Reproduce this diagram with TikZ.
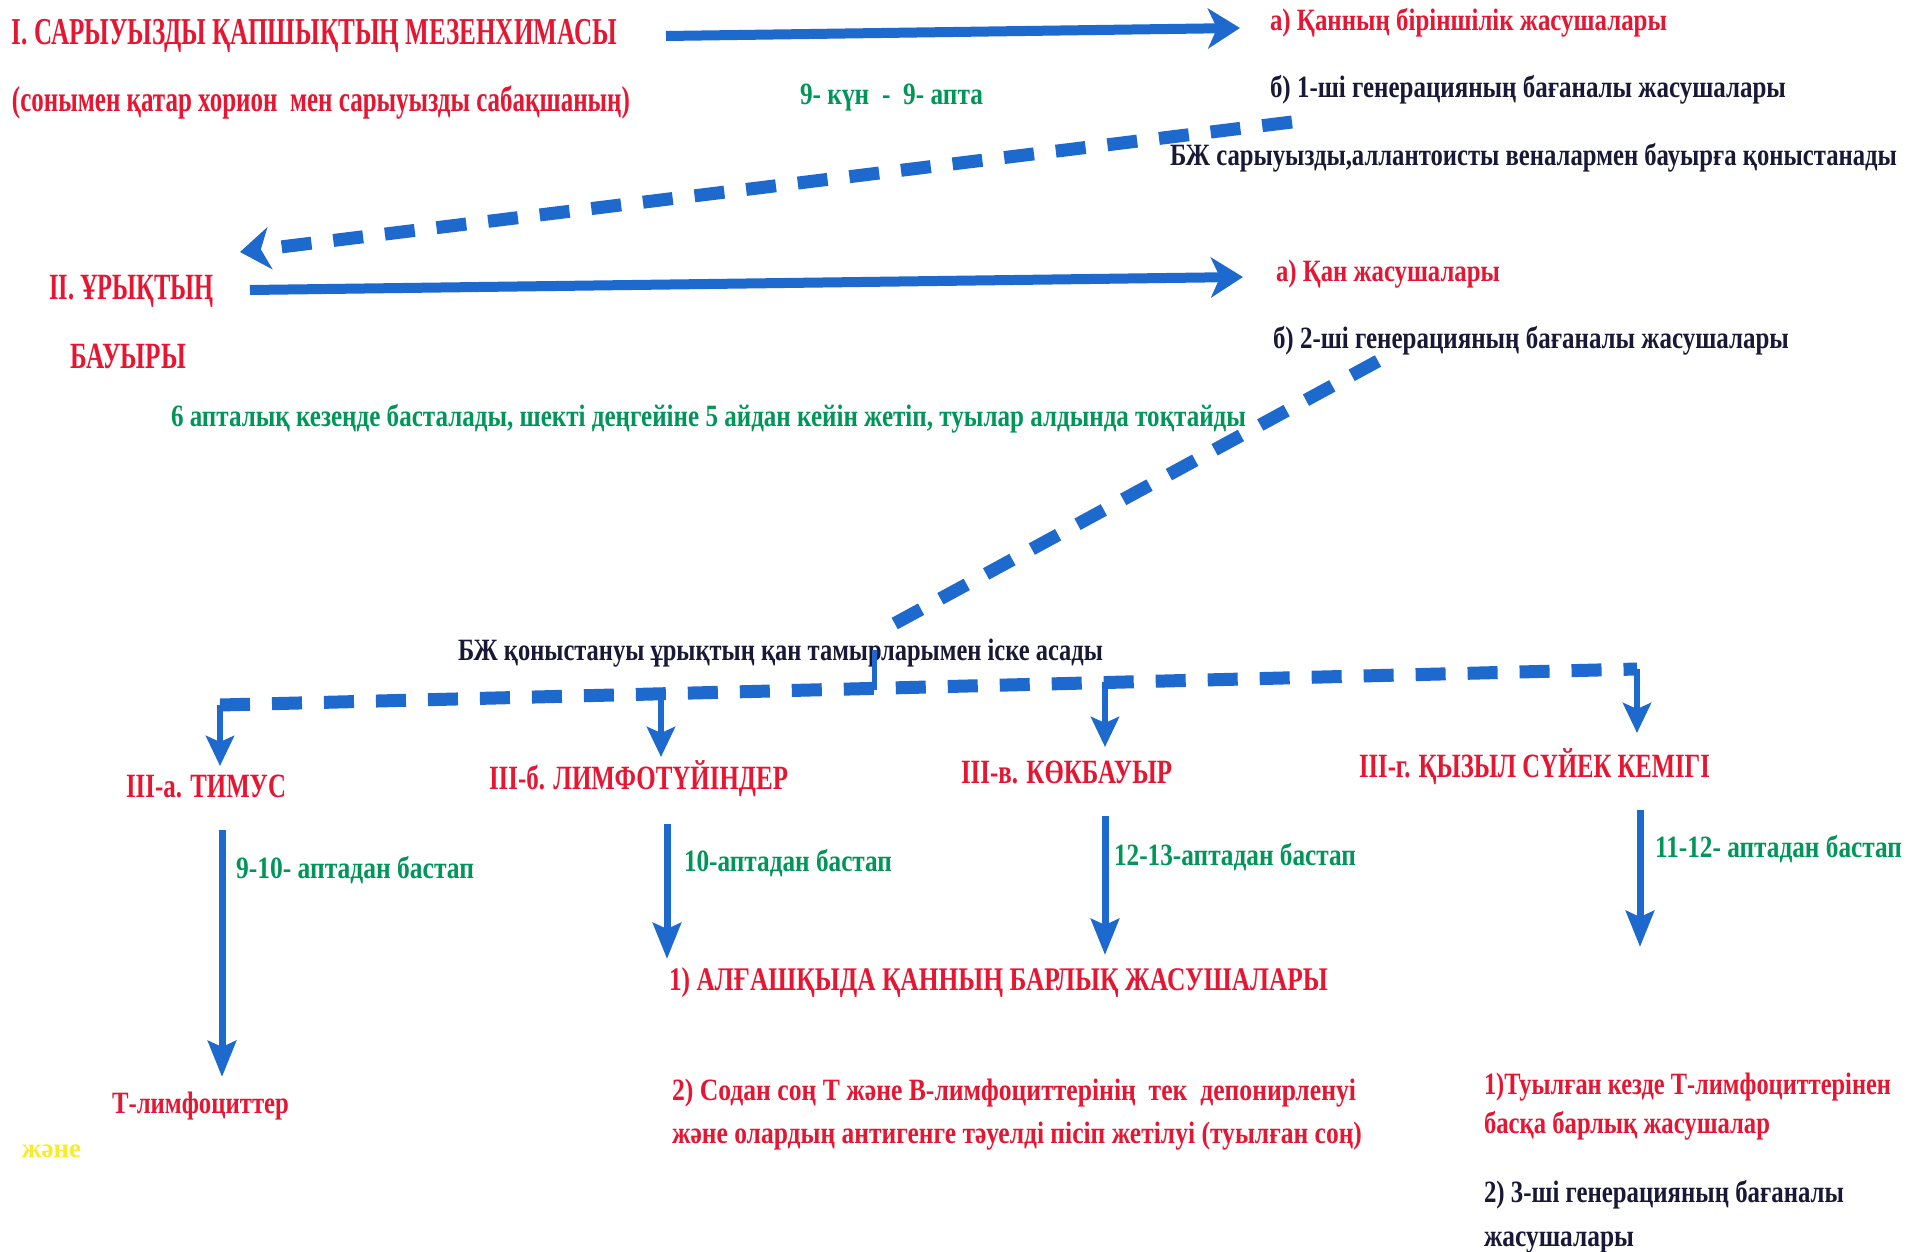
\documentclass[tikz,border=0pt]{standalone}
\usepackage{fontspec}
\usepackage{graphicx}
\setmainfont{Liberation Serif}
\usetikzlibrary{arrows.meta}
\definecolor{cred}{RGB}{230,22,50}
\definecolor{cgreen}{RGB}{0,150,90}
\definecolor{cdark}{RGB}{25,25,55}
\definecolor{cyel}{RGB}{250,235,40}
\definecolor{arrowblue}{RGB}{30,105,205}
\newsavebox\fitbox
\newcommand\fitto[3]{\sbox\fitbox{\fontsize{#2}{#2}\selectfont\bfseries #3}\pgfmathsetmacro\fitsx{#1/\the\wd\fitbox}\scalebox{\fitsx}[1]{\usebox\fitbox}}
\tikzset{
  lbl/.style={anchor=base west,inner sep=0pt,outer sep=0pt},
  bigarrow/.style={draw=arrowblue,line width=10pt,-{Stealth[length=32pt,width=40pt,inset=9pt]}},
  dasharrow/.style={draw=arrowblue,line width=13pt,dash pattern=on 30pt off 22pt,-{Stealth[length=30pt,width=42pt,inset=9pt]}},
  dashline/.style={draw=arrowblue,line width=13pt,dash pattern=on 30pt off 22pt},
  branch/.style={draw=arrowblue,line width=6pt,-{Stealth[length=30pt,width=28pt,inset=6pt]}},
  down/.style={draw=arrowblue,line width=7pt,-{Stealth[length=36pt,width=28pt,inset=6pt]}},
  tick/.style={draw=arrowblue,line width=5pt}
}
\begin{document}
\begin{tikzpicture}[x=1pt,y=-1pt]
\fill[white] (0,0) rectangle (1915,1252);
\useasboundingbox (0,0) rectangle (1915,1252);
% texts
\node[lbl,text=cred] (t1) at (12,45) {\fitto{605}{38}{I. САРЫУЫЗДЫ ҚАПШЫҚТЫҢ МЕЗЕНХИМАСЫ}};
\node[lbl,text=cred] (t2) at (12,112) {\fitto{618}{36}{(сонымен қатар хорион \ мен сарыуызды сабақшаның)}};
\node[lbl,text=cred] (a1) at (1270,31) {\fitto{397}{31}{а) Қанның біріншілік жасушалары}};
\node[lbl,text=cdark] (b1) at (1270,98) {\fitto{516}{31}{б) 1-ші генерацияның бағаналы жасушалары}};
\node[lbl,text=cgreen] (kun) at (800,105) {\fitto{183}{31}{9- күн \ - \ 9- апта}};
\node[lbl,text=cdark] (bzh1) at (1170,166) {\fitto{727}{31}{БЖ сарыуызды,аллантоисты веналармен бауырға қоныстанады}};
\node[lbl,text=cred] (u1) at (49,299) {\fitto{165}{37}{II. ҰРЫҚТЫҢ}};
\node[lbl,text=cred] (u2) at (70,368) {\fitto{116}{37}{БАУЫРЫ}};
\node[lbl,text=cred] (a2) at (1276,282) {\fitto{224}{31}{а) Қан жасушалары}};
\node[lbl,text=cdark] (b2) at (1273,348) {\fitto{516}{31}{б) 2-ші генерацияның бағаналы жасушалары}};
\node[lbl,text=cgreen] (six) at (171,426) {\fitto{1075}{31}{6 апталық кезеңде басталады, шекті деңгейіне 5 айдан кейін жетіп, туылар алдында тоқтайды}};
\node[lbl,text=cdark] (bzh2) at (458,660) {\fitto{645}{31}{БЖ қоныстануы ұрықтың қан тамырларымен іске асады}};
\node[lbl,text=cred] (thy) at (126,797) {\fitto{160}{34}{III-а. ТИМУС}};
\node[lbl,text=cred] (lymph) at (489,789) {\fitto{299}{34}{III-б. ЛИМФОТҮЙІНДЕР}};
\node[lbl,text=cred] (spl) at (961,783) {\fitto{211}{34}{III-в. КӨКБАУЫР}};
\node[lbl,text=cred] (marrow) at (1359,777) {\fitto{351}{34}{III-г. ҚЫЗЫЛ СҮЙЕК КЕМІГІ}};
\node[lbl,text=cgreen] (wa) at (236,878) {\fitto{238}{31}{9-10- аптадан бастап}};
\node[lbl,text=cgreen] (wb) at (684,871) {\fitto{208}{31}{10-аптадан бастап}};
\node[lbl,text=cgreen] (wc) at (1114,865) {\fitto{242}{31}{12-13-аптадан бастап}};
\node[lbl,text=cgreen] (wd) at (1655,857) {\fitto{247}{31}{11-12- аптадан бастап}};
\node[lbl,text=cred] (alg) at (669,990) {\fitto{659}{33}{1) АЛҒАШҚЫДА ҚАННЫҢ БАРЛЫҚ ЖАСУШАЛАРЫ}};
\node[lbl,text=cred] (sod1) at (672,1100) {\fitto{684}{31}{2) Содан соң Т және В-лимфоциттерінің \ тек \ депонирленуі}};
\node[lbl,text=cred] (sod2) at (672,1143) {\fitto{690}{31}{және олардың антигенге тәуелді пісіп жетілуі (туылған соң)}};
\node[lbl,text=cred] (tl) at (112,1113) {\fitto{177}{31}{Т-лимфоциттер}};
\node[lbl,text=cyel] (zh) at (22,1157) {\fitto{59}{27}{және}};
\node[lbl,text=cred] (tuy1) at (1484,1094) {\fitto{407}{31}{1)Туылған кезде Т-лимфоциттерінен}};
\node[lbl,text=cred] (tuy2) at (1484,1133) {\fitto{286}{31}{басқа барлық жасушалар}};
\node[lbl,text=cdark] (gen1) at (1484,1202) {\fitto{360}{31}{2) 3-ші генерацияның бағаналы}};
\node[lbl,text=cdark] (gen2) at (1484,1246) {\fitto{150}{31}{жасушалары}};
% coordinates
\coordinate (s1) at (666,36); \coordinate (e1) at (1240,28);
\coordinate (d1s) at (1292,122); \coordinate (d1e) at (240,252);
\coordinate (s2) at (250,290); \coordinate (e2) at (1243,277);
\coordinate (d2s) at (1378,361); \coordinate (d2e) at (892,625);
\coordinate (tk1) at (874,650); \coordinate (tk2) at (874,690);
\coordinate (hl) at (220,705); \coordinate (hr) at (1637,669);
\coordinate (ba0) at (220,705); \coordinate (ba1) at (220,766);
\coordinate (bb0) at (661,694); \coordinate (bb1) at (661,757);
\coordinate (bc0) at (1105,682); \coordinate (bc1) at (1105,747);
\coordinate (bd0) at (1637,669); \coordinate (bd1) at (1637,733);
\coordinate (va0) at (222,830); \coordinate (va1) at (222,1077);
\coordinate (vb0) at (667,824); \coordinate (vb1) at (667,959);
\coordinate (vc0) at (1105,816); \coordinate (vc1) at (1105,955);
\coordinate (vd0) at (1640,810); \coordinate (vd1) at (1640,947);
% connectors
\draw[bigarrow] (s1) -- (e1);
\draw[dasharrow] (d1s) -- (d1e);
\draw[bigarrow] (s2) -- (e2);
\draw[dashline] (d2s) -- (d2e);
\draw[tick] (tk1) -- (tk2);
\draw[dashline] (hl) -- (hr);
\draw[branch] (ba0) -- (ba1);
\draw[branch] (bb0) -- (bb1);
\draw[branch] (bc0) -- (bc1);
\draw[branch] (bd0) -- (bd1);
\draw[down] (va0) -- (va1);
\draw[down] (vb0) -- (vb1);
\draw[down] (vc0) -- (vc1);
\draw[down] (vd0) -- (vd1);
\end{tikzpicture}
\end{document}
